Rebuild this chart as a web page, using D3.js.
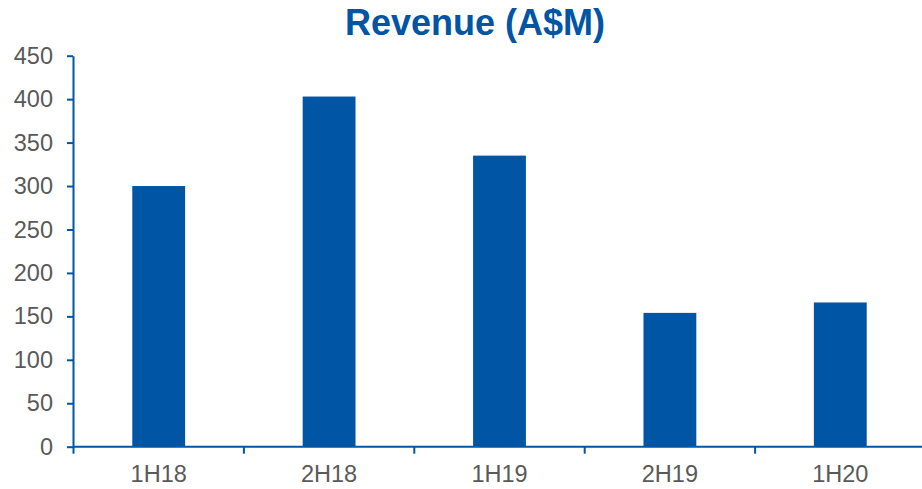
<!DOCTYPE html>
<html>
<head>
<meta charset="utf-8">
<script src="https://cdn.jsdelivr.net/npm/d3@7"></script>
<style>
  body { margin: 0; background: #fff; }
  svg { display: block; }
</style>
</head>
<body>
<svg id="chart"></svg>
<script>
const categories = ['1H18', '2H18', '1H19', '2H19', '1H20']
const revenue = [300, 403, 335, 154, 166]
const yTicks = [0, 50, 100, 150, 200, 250, 300, 350, 400, 450]

buildChart()

function buildChart() {
    const width = 922
    const height = 489
    const blue = '#0055a5'
    const grey = '#595959'

    const svg = d3.select('#chart')
        .attr('width', width)
        .attr('height', height)

    const x = d3.scaleBand()
        .domain(categories)
        .range([73.5, 925.5])
        .paddingInner(0.69)
        .paddingOuter(0.345)

    const y = d3.scaleLinear()
        .domain([0, 450])
        .range([446.7, 55.7])

    svg.append('text')
        .attr('x', 475)
        .attr('y', 35)
        .attr('text-anchor', 'middle')
        .style('font-family', 'Liberation Sans, Arial, sans-serif')
        .style('font-weight', 'bold')
        .style('font-size', '36px')
        .style('fill', blue)
        .text('Revenue (A$M)')

    svg.selectAll('rect.bar')
        .data(revenue)
        .join('rect')
        .attr('class', 'bar')
        .attr('x', (d, i) => x(categories[i]))
        .attr('width', x.bandwidth())
        .attr('y', d => y(d))
        .attr('height', d => y(0) - y(d))
        .style('fill', blue)

    // band boundaries for the x ticks
    const xBound = d3.scaleLinear()
        .domain([0, categories.length])
        .range(x.range())

    const xAxis = svg.append('g')
        .attr('transform', `translate(0,${y(0)})`)

    xAxis.append('line')
        .attr('x1', 73).attr('x2', width)
        .style('stroke', blue)
        .style('stroke-width', 2)

    xAxis.selectAll('line.tick')
        .data(d3.range(categories.length + 1))
        .join('line')
        .attr('class', 'tick')
        .attr('x1', d => xBound(d)).attr('x2', d => xBound(d))
        .attr('y1', 0).attr('y2', 7)
        .style('stroke', blue)
        .style('stroke-width', 2)

    xAxis.selectAll('text')
        .data(categories)
        .join('text')
        .attr('x', d => x(d) + x.bandwidth() / 2)
        .attr('y', 35)
        .attr('text-anchor', 'middle')
        .style('font-family', 'Liberation Sans, Arial, sans-serif')
        .style('font-size', '23.5px')
        .style('fill', grey)
        .text(d => d)

    const yAxis = svg.append('g')
        .attr('transform', 'translate(73,0)')
        .call(d3.axisLeft(y).tickValues(yTicks).tickSize(6).tickPadding(14).tickSizeOuter(0))

    yAxis.select('.domain')
        .style('stroke', blue)
        .style('stroke-width', 2)
    yAxis.selectAll('.tick line')
        .style('stroke', blue)
        .style('stroke-width', 2)
    yAxis.selectAll('.tick text')
        .style('font-family', 'Liberation Sans, Arial, sans-serif')
        .style('font-size', '23.5px')
        .style('fill', grey)
}
</script>
</body>
</html>
